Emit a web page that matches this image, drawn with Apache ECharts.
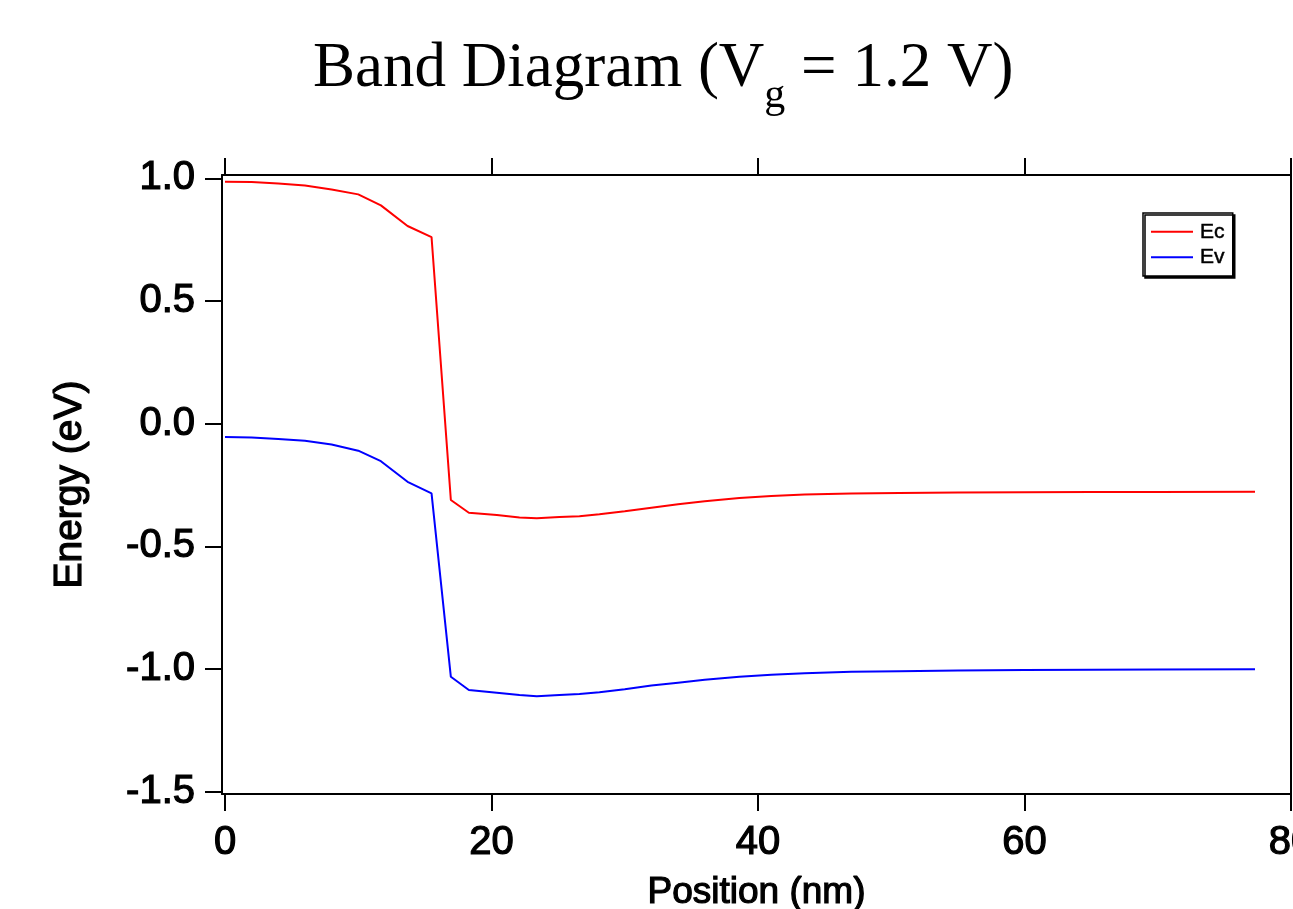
<!DOCTYPE html>
<html>
<head>
<meta charset="utf-8">
<script src="https://cdn.jsdelivr.net/npm/echarts@6/dist/echarts.min.js"></script>
<style>html,body{margin:0;padding:0;background:#fff}#c{width:1293px;height:909px}</style>
</head>
<body>
<div id="c"></div>
<script>
const positions = [0, 2, 4, 6, 8, 10, 11.7, 13.7, 15.5, 16.95, 18.3, 20.4, 22.1, 23.4, 25.1, 26.6, 28.1, 30, 32, 34, 36, 38.6, 41, 43.5, 47, 50.6, 55, 60, 65, 70, 77.3];
const ecValues = [0.986, 0.985, 0.979, 0.971, 0.955, 0.935, 0.890, 0.806, 0.761, -0.311, -0.363, -0.372, -0.383, -0.386, -0.381, -0.377, -0.369, -0.357, -0.343, -0.329, -0.316, -0.303, -0.295, -0.289, -0.285, -0.283, -0.281, -0.280, -0.279, -0.279, -0.278];
const evValues = [-0.054, -0.056, -0.062, -0.070, -0.085, -0.110, -0.153, -0.237, -0.284, -1.032, -1.086, -1.097, -1.106, -1.111, -1.106, -1.102, -1.095, -1.083, -1.068, -1.056, -1.044, -1.032, -1.024, -1.018, -1.012, -1.009, -1.006, -1.004, -1.003, -1.002, -1.001];
const xTicks = [0, 20, 40, 60, 80];
const yTicks = [-1.5, -1.0, -0.5, 0.0, 0.5, 1.0];

const chart = echarts.init(document.getElementById('c'));
const sans = 'Liberation Sans, Arial, sans-serif';
const serif = 'Liberation Serif, Times New Roman, serif';
const axisLineStyle = { color: '#000', width: 2 };
const tickStyle = { show: true, inside: false, length: 17, lineStyle: { color: '#000', width: 2 } };
const heavy = { textBorderColor: '#000', textBorderWidth: 1.2 };

chart.setOption({
  animation: false,
  backgroundColor: '#fff',
  title: {
    text: '{a|Band Diagram (V}{s|g}{a| = 1.2 V)}',
    left: 308,
    top: 33,
    textStyle: {
      fontWeight: 'normal',
      rich: {
        a: { fontFamily: serif, fontSize: 63, fontWeight: 'normal', color: '#000', verticalAlign: 'bottom', padding: [0, 0, 16, 0] },
        s: { fontFamily: serif, fontSize: 42, fontWeight: 'normal', color: '#000', verticalAlign: 'bottom' }
      }
    }
  },
  legend: {
    orient: 'vertical',
    left: 1143,
    top: 213,
    padding: [8, 8, 8, 7],
    itemWidth: 42,
    itemHeight: 20,
    itemGap: 4,
    backgroundColor: '#fff',
    borderColor: '#000',
    borderWidth: 1.5,
    shadowColor: '#000',
    shadowBlur: 0,
    shadowOffsetX: 2,
    shadowOffsetY: 2,
    itemStyle: { opacity: 0 },
    lineStyle: { width: 2 },
    textStyle: { fontFamily: sans, fontSize: 21, color: '#000', padding: [0, 0, 0, 2], textBorderColor: '#000', textBorderWidth: 0.5 },
    data: ['Ec', 'Ev']
  },
  grid: { left: 222, top: 175, width: 1069, height: 619, containLabel: false, outerBoundsMode: 'none' },
  xAxis: [{
    type: 'value', min: -0.225, max: 80, position: 'bottom',
    name: 'Position (nm)', nameLocation: 'middle', nameGap: 80,
    nameTextStyle: Object.assign({ fontFamily: sans, fontSize: 37, color: '#000' }, heavy),
    axisLine: { show: true, onZero: false, lineStyle: axisLineStyle },
    axisTick: Object.assign({ customValues: xTicks }, tickStyle),
    axisLabel: Object.assign({ customValues: xTicks, fontFamily: sans, fontSize: 40, color: '#000', margin: 29, formatter: v => String(Math.round(v)) }, heavy),
    splitLine: { show: false }
  }, {
    type: 'value', min: -0.225, max: 80, position: 'top',
    axisLine: { show: true, onZero: false, lineStyle: axisLineStyle },
    axisTick: Object.assign({ customValues: xTicks }, tickStyle),
    axisLabel: { show: false },
    splitLine: { show: false }
  }],
  yAxis: [{
    type: 'value', min: -1.51, max: 1.014, position: 'left',
    name: 'Energy (eV)', nameLocation: 'middle', nameGap: 132,
    nameTextStyle: Object.assign({ fontFamily: sans, fontSize: 39, color: '#000' }, heavy),
    axisLine: { show: true, onZero: false, lineStyle: axisLineStyle },
    axisTick: Object.assign({ customValues: yTicks }, tickStyle),
    axisLabel: Object.assign({ customValues: yTicks, fontFamily: sans, fontSize: 40, color: '#000', margin: 27, formatter: v => v.toFixed(1) }, heavy),
    splitLine: { show: false }
  }, {
    type: 'value', min: -1.51, max: 1.014, position: 'right',
    axisLine: { show: true, onZero: false, lineStyle: axisLineStyle },
    axisTick: { show: false },
    axisLabel: { show: false },
    splitLine: { show: false }
  }],
  series: [{
    name: 'Ec', type: 'line', xAxisIndex: 0, yAxisIndex: 0,
    data: positions.map((p, i) => [p, ecValues[i]]),
    symbol: 'none', lineStyle: { color: '#ff0000', width: 2 }, itemStyle: { color: '#ff0000' }
  }, {
    name: 'Ev', type: 'line', xAxisIndex: 0, yAxisIndex: 0,
    data: positions.map((p, i) => [p, evValues[i]]),
    symbol: 'none', lineStyle: { color: '#0000ff', width: 2 }, itemStyle: { color: '#0000ff' }
  }]
});
</script>
</body>
</html>
